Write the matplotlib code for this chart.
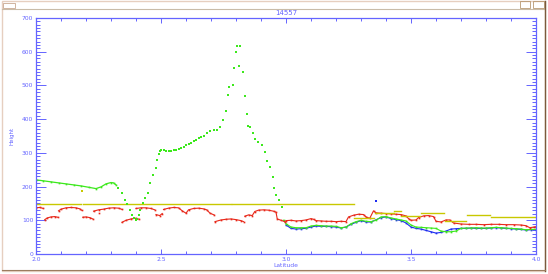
import numpy as np
import matplotlib
matplotlib.use('Agg')
import matplotlib.pyplot as plt
from matplotlib.patches import Rectangle
from matplotlib.lines import Line2D
from matplotlib.ticker import MultipleLocator

nan = np.nan

## data (latitude, height); nan = gap in the trace
green_lat = [2.00, 2.03, 2.06, 2.09, 2.12, 2.15, 2.18, 2.21, 2.24, 2.26, 2.28, 2.30, 2.31, 2.32]
green_hgt = [220, 217, 214, 211, 208, 205, 202, 198, 194, 199, 208, 212, 211, 205]

green_pk_lat = [2.328, 2.343, 2.356, 2.363, 2.376, 2.383, 2.390, 2.398, 2.405, 2.410, 2.416, 2.426,
                2.436, 2.446, 2.456, 2.469, 2.480, 2.485, 2.491, 2.496,
                2.50, 2.51, 2.52, 2.53, 2.54, 2.55, 2.56, 2.57, 2.58, 2.59, 2.60, 2.61, 2.62, 2.63,
                2.64, 2.65, 2.66, 2.673, 2.683, 2.696, 2.710, 2.723, 2.736, 2.749, 2.759, 2.769,
                2.773, 2.789, 2.793, 2.800, 2.805, 2.816, 2.813, 2.827, 2.836, 2.843, 2.849, 2.856,
                2.869, 2.876, 2.889, 2.903, 2.916, 2.923, 2.936, 2.949, 2.952, 2.959, 2.972, 2.985]
green_pk_hgt = [197, 180, 160, 148, 130, 116, 106, 102, 104, 115, 130, 152,
                165, 180, 210, 234, 254, 278, 298, 305,
                308, 307, 306, 305, 306, 307, 309, 312, 315, 318, 322, 325, 329, 334,
                339, 343, 348, 350, 360, 365, 367, 368, 378, 398, 424, 472,
                494, 501, 553, 598, 617, 617, 558, 539, 469, 415, 380, 378,
                358, 342, 332, 322, 303, 276, 258, 228, 197, 174, 159, 139]

green_lo_lat = [2.99, 3.00, 3.02, 3.04, 3.06, 3.08, 3.10, 3.12, 3.14, 3.16, 3.18, 3.20, 3.22, 3.24,
                3.26, 3.28, 3.30, 3.32, 3.34, 3.36, 3.38, 3.40, 3.42, 3.44, 3.46, 3.48, 3.50, 3.52,
                3.54, 3.56, 3.58, 3.60, 3.62, 3.64, 3.66, 3.68, 3.70, 3.72, 3.74, 3.76, 3.78, 3.80,
                3.82, 3.84, 3.86, 3.88, 3.90, 3.92, 3.94, 3.96, 3.98, 4.00]
green_lo_hgt = [100, 90, 80, 78, 78, 78, 83, 85, 84, 83, 83, 82, 78, 80,
                90, 96, 100, 97, 96, 100, 110, 111, 107, 104, 101, 98, 86, 80,
                79, 78, 77, 76, 68, 66, 66, 68, 76, 77, 77, 78, 77, 77,
                78, 79, 78, 77, 76, 75, 74, 72, 73, 73]

blue_lat = [3.00, 3.02, 3.04, 3.06, 3.08, 3.10, 3.12, 3.14, 3.16, 3.18, 3.20, 3.22, 3.24, 3.26,
            3.28, 3.30, 3.32, 3.34, 3.38, 3.40, 3.42, 3.44, 3.46, 3.48, 3.50, 3.52, 3.54, 3.56,
            3.58, 3.60, 3.62, 3.64, 3.66, 3.68, 3.70, 3.72, 3.74, 3.76, 3.78, 3.80, 3.82, 3.84,
            3.86, 3.88, 3.90, 3.92, 3.94, 3.96, 3.98, 4.00]
blue_hgt = [86, 76, 74, 75, 76, 80, 83, 82, 82, 81, 80, 77, 80, 88,
            94, 99, 95, 95, 108, 110, 105, 102, 99, 92, 80, 76, 74, 70,
            66, 62, 64, 68, 74, 75, 76, 76, 77, 76, 76, 76, 77, 78,
            77, 76, 75, 74, 73, 71, 72, 72]
blue_odd_lat = [3.36]
blue_odd_hgt = [157]

red_lat = [2.000, 2.015, 2.030, nan,
           2.035, 2.045, 2.060, 2.075, 2.087, nan,
           2.090, 2.100, 2.120, 2.140, 2.160, 2.175, 2.182, nan,
           2.187, 2.200, 2.215, 2.227, nan,
           2.230, 2.250, 2.270, 2.290, 2.310, 2.330, 2.345, nan,
           2.253, nan,
           2.344, 2.360, 2.380, 2.400, 2.413, nan,
           2.400, 2.420, 2.440, 2.460, 2.475, nan,
           2.480, 2.495, 2.505, nan,
           2.510, 2.530, 2.550, 2.570, 2.585, 2.600, 2.610, 2.630, 2.650, 2.670, 2.683,
           2.696, 2.712, nan,
           2.716, 2.740, 2.760, 2.780, 2.800, 2.820, 2.830, nan,
           2.835, 2.850, 2.865, 2.875, 2.890, 2.910, 2.930, 2.950, 2.960,
           2.965, 2.980, 2.995, 3.000, 3.020, 3.040, 3.060, 3.080, 3.100, 3.110,
           3.120, 3.140, 3.160, 3.180, 3.200, 3.220, 3.240, 3.250, 3.270, 3.290, 3.310,
           3.320, 3.335, 3.350, 3.360, 3.380, 3.400, 3.420, 3.440, 3.460, 3.480, 3.490,
           3.500, 3.520, 3.530, 3.550, 3.570, 3.590, 3.600, 3.620, 3.640, 3.655, 3.670,
           3.700, 3.730, 3.760, 3.790, 3.820, 3.850, 3.880, 3.910, 3.940, 3.960, 3.975,
           3.990, 4.000]
red_hgt = [137, 138, 135, nan,
           102, 107, 110, 111, 109, nan,
           128, 133, 137, 138, 137, 134, 130, nan,
           109, 110, 108, 104, nan,
           127, 131, 133, 136, 137, 136, 132, nan,
           121, nan,
           94, 100, 104, 106, 103, nan,
           135, 137, 137, 135, 131, nan,
           117, 114, 120, nan,
           132, 136, 138, 137, 128, 121, 131, 135, 136, 134, 131,
           121, 116, nan,
           96, 101, 103, 104, 102, 99, 96, nan,
           112, 116, 114, 126, 130, 131, 130, 127, 124,
           104, 100, 96, 99, 100, 98, 99, 101, 105, 103,
           99, 98, 97, 97, 96, 97, 96, 110, 115, 118, 117,
           110, 106, 128, 122, 121, 120, 119, 118, 117, 113, 105,
           100, 101, 108, 113, 114, 111, 97, 95, 101, 101, 92,
           89, 88, 88, 87, 88, 88, 87, 87, 86, 84, 78,
           80, 81]

yellow_lat = [2.000, 2.180, nan, 2.186, 2.780, nan, 2.783, 3.270, nan,
              3.272, 3.350, nan, 3.355, 3.430, nan, 3.430, 3.460, nan, 3.460, 3.535, nan,
              3.541, 3.632, nan, 3.634, 3.721, nan, 3.725, 3.815, nan, 3.818, 4.000]
yellow_hgt = [148, 148, nan, 148, 148, nan, 148, 148, nan,
              106, 106, nan, 121, 121, nan, 127, 127, nan, 113, 113, nan,
              121, 121, nan, 99, 99, nan, 116, 116, nan, 109, 109]
yellow_odd_lat = [2.183]
yellow_odd_hgt = [188]

title = '14557'
x_ticks = [2.0, 2.5, 3.0, 3.5, 4.0]
y_ticks = [0, 100, 200, 300, 400, 500, 600, 700]

axis_col = '#6464ff'
green = '#3ce81c'
red = '#e8281a'
yellow = '#c8c800'
blue = '#1c2cf0'

fig = plt.figure(figsize=(5.48, 2.74), dpi=100)
fig.patch.set_facecolor('white')

## window frame around the plot
fig.add_artist(Rectangle((0.004, 0.012), 0.990, 0.984, transform=fig.transFigure,
                         fill=False, edgecolor='#e6cfc0', lw=1.0))
fig.add_artist(Line2D([0.004, 0.994], [0.967, 0.967], transform=fig.transFigure,
                      color='#c9bca8', lw=0.8))
fig.add_artist(Line2D([0.994, 0.994], [0.012, 0.996], transform=fig.transFigure,
                      color='#7a5a3c', lw=1.0))
fig.add_artist(Line2D([0.004, 0.994], [0.015, 0.015], transform=fig.transFigure,
                      color='#9c7c60', lw=0.8))
fig.add_artist(Rectangle((0.006, 0.972), 0.022, 0.018, transform=fig.transFigure,
                         fill=False, edgecolor='#c9a890', lw=0.6))
fig.add_artist(Rectangle((0.948, 0.970), 0.020, 0.026, transform=fig.transFigure,
                         fill=False, edgecolor='#b89870', lw=0.6))
fig.add_artist(Rectangle((0.972, 0.970), 0.020, 0.026, transform=fig.transFigure,
                         fill=False, edgecolor='#b89870', lw=0.6))

ax = fig.add_axes([36/548, 20/274, 500/548, 236/274])

ax.plot(blue_lat, blue_hgt, color=blue, lw=0.8, marker='s', ms=1.2, mew=0)
ax.plot(blue_odd_lat, blue_odd_hgt, color=blue, ls='none', marker='s', ms=1.7, mew=0)
ax.plot(green_lo_lat, green_lo_hgt, color=green, lw=0.8, marker='s', ms=1.2, mew=0)
ax.plot(red_lat, red_hgt, color=red, lw=0.8, marker='s', ms=1.2, mew=0)
ax.plot(yellow_lat, yellow_hgt, color=yellow, lw=1.0)
ax.plot(yellow_odd_lat, yellow_odd_hgt, color=yellow, ls='none', marker='s', ms=1.8, mew=0)
ax.plot(green_lat, green_hgt, color=green, lw=0.9, marker='s', ms=1.2, mew=0)
ax.plot(green_pk_lat, green_pk_hgt, color=green, ls='none', marker='s', ms=1.6, mew=0)

ax.set_xlim(2.0, 4.0)
ax.set_ylim(0, 700)
ax.set_xticks(x_ticks)
ax.set_xticklabels(['%.1f' % t for t in x_ticks])
ax.set_yticks(y_ticks)
ax.xaxis.set_minor_locator(MultipleLocator(0.1))
ax.yaxis.set_minor_locator(MultipleLocator(10))

for s in ax.spines.values():
    s.set_color(axis_col)
    s.set_linewidth(0.9)

ax.tick_params(axis='both', which='both', direction='in', colors=axis_col,
               top=True, right=True, labelsize=4.3, width=0.7, pad=2)
ax.tick_params(axis='x', which='major', length=3.8)
ax.tick_params(axis='x', which='minor', length=2.0)
ax.tick_params(axis='y', which='major', length=7.0)
ax.tick_params(axis='y', which='minor', length=3.2)

ax.set_title(title, fontsize=5, color=axis_col, pad=2)
ax.set_xlabel('Latitude', fontsize=4.3, color=axis_col, labelpad=1)
ax.set_ylabel('Height', fontsize=4, color=axis_col, labelpad=5)

plt.savefig('out.png', dpi=100)
